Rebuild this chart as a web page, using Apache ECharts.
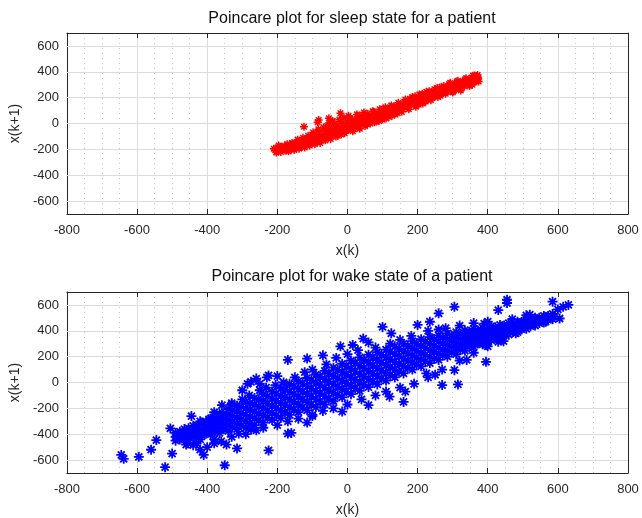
<!DOCTYPE html>
<html>
<head>
<meta charset="utf-8">
<script src="https://cdn.jsdelivr.net/npm/echarts@6/dist/echarts.min.js"></script>
<style>
  html, body { margin: 0; padding: 0; background: #fff; }
  #chart { width: 642px; height: 518px; }
</style>
</head>
<body>
<div id="chart"></div>
<script>
// axis ticks
const xTicks = [-800, -600, -400, -200, 0, 200, 400, 600, 800];
const yTicks = [-600, -400, -200, 0, 200, 400, 600];

// sleep state: [x(k), x(k+1)]
const sleepPoints = [
  [-205,-200],[-200,-215],[-198,-185],[-192,-205],[-185,-195],[-180,-175],[-178,-210],[-170,-190],
  [-165,-165],[-160,-200],[-155,-175],[-150,-150],[-148,-190],[-140,-165],[-135,-140],[-130,-180],
  [-124,-25],[-125,-150],[-120,-120],[-115,-165],[-110,-135],[-105,-100],[-100,-150],[-95,-115],
  [-90,-80],[-88,-140],[-82,27],[-85,10],[-82,-60],[-80,-105],[-75,-130],[-70,-85],[-65,-50],
  [-60,-110],[-58,-20],[-53,40],[-55,-75],[-50,-95],[-45,-40],[-42,20],[-40,-80],[-35,-55],
  [-30,-15],[-28,-95],[-25,-35],[-20,79],[-20,-65],[-15,5],[-12,-45],[-8,-75],[-5,-20],[0,10],
  [0,-50],[5,-30],[8,40],[12,-10],[15,-60],[20,20],[22,-25],[28,50],[30,-5],[35,-40],[38,30],
  [42,60],[45,10],[50,-20],[55,45],[58,75],[62,25],[65,0],[70,60],[75,90],[78,35],[82,15],
  [88,80],[92,110],[95,55],[100,30],[105,95],[108,125],[112,70],[118,50],[122,115],[125,140],
  [130,90],[135,70],[140,135],[145,160],[150,110],[155,90],[160,150],[165,185],[170,130],
  [175,110],[180,170],[185,205],[190,150],[195,130],[200,190],[205,225],[210,170],[215,155],
  [220,210],[225,245],[230,195],[238,180],[240,235],[248,265],[252,215],[258,205],[262,250],
  [268,285],[272,235],[280,230],[285,270],[290,305],[295,255],[302,250],[305,290],[312,325],
  [318,275],[325,270],[330,310],[335,340],[342,295],[348,290],[352,330],[355,355],[360,320],
  [365,345],[368,365],[370,335],[372,355],
  [-210,-195],[-203,-225],[-196,-170],[-190,-220],[-187,-180],[-175,-200],[-172,-160],[-168,-215],
  [-162,-180],[-158,-150],[-152,-205],[-145,-180],[-142,-125],[-138,-195],[-132,-155],[-127,-110],
  [-122,-185],[-118,-140],[-112,-95],[-108,-170],[-102,-125],[-98,-70],[-93,-160],[-87,-100],
  [-83,-45],[-78,-150],[-73,-110],[-68,-30],[-63,-130],[-57,-55],[-52,5],[-48,-120],[-43,-65],
  [-38,-5],[-33,-100],[-27,-40],[-23,30],[-18,-85],[-13,-20],[-10,45],[-3,-55],[2,-5],[3,60],
  [10,-35],[13,25],[18,-45],[25,5],[27,70],[32,-25],[36,45],[40,-10],[47,85],[52,25],[57,-5],
  [60,55],[67,30],[72,95],[77,10],[80,65],[85,40],[90,20],[97,85],[102,115],[103,60],[110,40],
  [115,105],[120,80],[127,60],[132,125],[138,100],[143,80],[148,145],[152,130],[158,110],
  [163,165],[168,150],[172,125],[178,190],[182,145],[188,175],[193,210],[198,160],[203,145],
  [208,200],[213,230],[218,180],[223,170],[228,225],[233,250],[236,210],[243,200],[246,250],
  [250,240],[256,275],[260,225],[265,215],[270,260],[275,290],[278,250],[283,245],[288,285],
  [293,315],[298,270],[300,240],[308,300],[310,265],[315,330],[320,290],[323,255],[328,325],
  [333,290],[338,350],[340,320],[345,310],[350,345],[356,300],[358,370],[362,340],[366,325],
  [371,375],[373,345],[374,325],[368,350],[362,372]
];

// wake state: [x(k), x(k+1)]
const wakePoints = [
  [-490,-450],[-490,-420],[-490,-390],[-465,-440],[-465,-400],[-465,-360],
  [-440,-425],[-440,-380],[-440,-335],[-415,-410],[-415,-360],[-415,-310],
  [-390,-400],[-390,-370],[-390,-340],[-390,-310],[-390,-280],
  [-365,-390],[-365,-352],[-365,-315],[-365,-278],[-365,-240],
  [-340,-375],[-340,-332],[-340,-290],[-340,-248],[-340,-205],
  [-315,-360],[-315,-315],[-315,-270],[-315,-225],[-315,-180],
  [-290,-350],[-290,-300],[-290,-250],[-290,-200],[-290,-150],
  [-265,-330],[-265,-278],[-265,-225],[-265,-172],[-265,-120],
  [-240,-310],[-240,-255],[-240,-200],[-240,-145],[-240,-90],
  [-215,-290],[-215,-235],[-215,-180],[-215,-125],[-215,-70],
  [-190,-275],[-190,-218],[-190,-160],[-190,-102],[-190,-45],
  [-165,-250],[-165,-190],[-165,-130],[-165,-70],[-165,-10],
  [-140,-230],[-140,-170],[-140,-110],[-140,-50],[-140,10],
  [-115,-215],[-115,-152],[-115,-90],[-115,-28],[-115,35],
  [-90,-190],[-90,-128],[-90,-65],[-90,-2],[-90,60],
  [-65,-170],[-65,-105],[-65,-40],[-65,25],[-65,90],
  [-40,-145],[-40,-80],[-40,-15],[-40,50],[-40,115],
  [-15,-115],[-15,-50],[-15,15],[-15,80],[-15,145],
  [10,-90],[10,-25],[10,40],[10,105],[10,170],
  [35,-65],[35,0],[35,65],[35,130],[35,195],
  [60,-35],[60,28],[60,90],[60,152],[60,215],
  [85,-15],[85,48],[85,110],[85,172],[85,235],
  [110,15],[110,75],[110,135],[110,195],[110,255],
  [135,40],[135,100],[135,160],[135,220],[135,280],
  [160,70],[160,128],[160,185],[160,242],[160,300],
  [185,100],[185,155],[185,210],[185,265],[185,320],
  [210,125],[210,178],[210,230],[210,282],[210,335],
  [235,150],[235,200],[235,250],[235,300],[235,350],
  [260,175],[260,222],[260,270],[260,318],[260,365],
  [285,200],[285,245],[285,290],[285,335],[285,380],
  [310,220],[310,262],[310,305],[310,348],[310,390],
  [335,245],[335,285],[335,325],[335,365],[335,405],
  [360,275],[360,310],[360,345],[360,380],[360,415],
  [385,295],[385,328],[385,360],[385,392],[385,425],
  [410,325],[410,352],[410,380],[410,408],[410,435],
  [435,345],[435,370],[435,395],[435,420],[435,445],
  [460,370],[460,415],[460,460],[485,390],[485,430],[485,470],
  [510,415],[510,450],[510,485],[535,440],[535,470],[535,500],
  [560,465],[560,490],[560,515],[585,490],[585,510],[585,530],
  [-478,-440],[-478,-410],[-478,-380],
  [-453,-426],[-453,-402],[-453,-378],[-453,-354],
  [-428,-409],[-428,-383],[-428,-357],[-428,-331],
  [-403,-395],[-403,-365],[-403,-335],[-403,-305],
  [-378,-380],[-378,-345],[-378,-310],[-378,-275],
  [-353,-362],[-353,-322],[-353,-282],[-353,-242],
  [-328,-346],[-328,-302],[-328,-258],[-328,-214],
  [-303,-331],[-303,-284],[-303,-236],[-303,-189],
  [-278,-315],[-278,-264],[-278,-212],[-278,-161],
  [-253,-293],[-253,-239],[-253,-185],[-253,-131],
  [-228,-272],[-228,-217],[-228,-163],[-228,-108],
  [-203,-254],[-203,-198],[-203,-142],[-203,-86],
  [-178,-234],[-178,-175],[-178,-116],[-178,-56],
  [-153,-210],[-153,-150],[-153,-90],[-153,-30],
  [-128,-192],[-128,-130],[-128,-70],[-128,-8],
  [-103,-172],[-103,-110],[-103,-47],[-103,16],
  [-78,-148],[-78,-84],[-78,-20],[-78,44],
  [-53,-126],[-53,-60],[-53,5],[-53,70],
  [-28,-98],[-28,-32],[-28,32],[-28,98],
  [-3,-70],[-3,-5],[-3,60],[-3,125],
  [22,-46],[22,20],[22,84],[22,150],
  [47,-18],[47,46],[47,110],[47,174],
  [72,6],[72,68],[72,132],[72,194],
  [97,30],[97,92],[97,152],[97,214],
  [122,58],[122,118],[122,178],[122,238],
  [147,84],[147,142],[147,202],[147,260],
  [172,114],[172,170],[172,226],[172,282],
  [197,139],[197,193],[197,247],[197,301],
  [222,164],[222,214],[222,266],[222,316],
  [247,186],[247,236],[247,284],[247,334],
  [272,211],[272,257],[272,303],[272,349],
  [297,232],[297,276],[297,320],[297,364],
  [322,254],[322,295],[322,335],[322,376],
  [347,279],[347,316],[347,354],[347,391],
  [372,301],[372,335],[372,369],[372,403],
  [397,325],[397,355],[397,385],[397,415],
  [422,349],[422,375],[422,401],[422,427],
  [447,369],[447,393],[447,417],[447,441],
  [472,390],[472,412],[472,432],[472,454],
  [497,412],[497,440],[497,468],[522,436],[522,460],[522,484],
  [547,460],[547,480],[547,500],[572,485],[572,500],[572,515],
  // upper edge of the cloud
  [-420,-300],[-380,-230],[-330,-170],[-300,-130],[-280,-100],[-250,-60],[-232,-40],[-205,-20],
  [-182,0],[-150,40],[-122,80],[-100,100],[-60,140],[-32,190],[0,220],[30,250],[80,270],
  [122,300],[150,330],[182,360],[230,400],[280,420],[320,440],[360,460],[400,470],[470,490],[510,520],
  // lower edge of the cloud
  [-460,-480],[-420,-440],[-380,-440],[-330,-420],[-290,-400],[-260,-370],[-240,-350],[-200,-330],
  [-170,-300],[-140,-280],[-100,-250],[-70,-220],[-40,-200],[0,-170],[40,-130],[80,-100],
  [110,-70],[150,-40],[190,-10],[230,40],[270,100],[320,170],[360,230],[400,280],[440,330],[480,380],
  // outliers
  [-645,-560],[-638,-590],[-595,-575],[-560,-520],[-545,-445],[-520,-655],[-505,-355],[-500,-550],
  [-450,-380],[-445,-260],[-440,-485],[-410,-560],[-395,-285],[-350,-640],[-358,-175],[-315,-510],
  [-275,5],[-225,-525],[-225,55],[-170,175],[-170,-395],[-115,185],[-70,210],[-15,-225],[45,340],
  [100,430],[60,-175],[125,380],[160,-150],[200,445],[260,535],[270,-20],[305,585],[305,95],
  [315,-15],[340,175],[395,160],[395,290],[430,560],[455,640],[455,615],[565,505],[565,470],
  [585,625],[605,495],[630,600],[615,585],[600,565],[520,525],[235,470],[390,455],[430,315],
  [445,320],[260,410],[60,310],[15,290],[-20,280],[-230,40],[-285,-10],[-260,30],[-330,-160],
  [-310,-395],[-275,-365],[-160,-390],[-115,-310],[-100,-260],[120,-110],[165,-70],[225,70],[250,60],
  [-470,-430],[-455,-470],[-430,-470],[-420,-520],[-400,-500],[-380,-470],[-360,-455],[-345,-480],
  [-300,-60],[-250,-10],[-200,50]
];

const star = 'path://M5 0L5 10M0 5L10 5M1.5 1.5L8.5 8.5M1.5 8.5L8.5 1.5';
const textColor = '#262626';
const font = 'Liberation Sans, Arial, sans-serif';

function xAxisPair(gridIndex) {
  const base = {
    gridIndex: gridIndex, type: 'value', min: -800, max: 800, interval: 200,
    axisLine: { show: true, onZero: false, lineStyle: { color: '#262626', width: 1 } },
    axisTick: { show: true, inside: true, length: 5, lineStyle: { color: '#262626' } }
  };
  return [
    Object.assign({}, base, {
      position: 'bottom',
      name: 'x(k)', nameLocation: 'middle', nameGap: 30,
      nameTextStyle: { color: textColor, fontSize: 14, fontFamily: font },
      axisLabel: { color: textColor, fontSize: 13, fontFamily: font, margin: 10 },
      splitLine: { show: true, lineStyle: { color: '#dcdcdc', width: 1 } },
      minorTick: { show: false, splitNumber: 4 },
      minorSplitLine: { show: true, lineStyle: { color: '#c4c4c4', type: [1, 4], width: 1 } }
    }),
    Object.assign({}, base, {
      position: 'top', axisLabel: { show: false }, splitLine: { show: false }
    })
  ];
}

function yAxisPair(gridIndex) {
  const base = {
    gridIndex: gridIndex, type: 'value', min: -700, max: 700, interval: 100,
    axisLine: { show: true, onZero: false, lineStyle: { color: '#262626', width: 1 } },
    axisTick: { show: true, inside: true, length: 5, lineStyle: { color: '#262626' }, customValues: yTicks },
    splitLine: { show: false }
  };
  return [
    Object.assign({}, base, {
      position: 'left',
      name: 'x(k+1)', nameLocation: 'middle', nameGap: 42, nameRotate: 90,
      nameTextStyle: { color: textColor, fontSize: 14, fontFamily: font },
      axisLabel: { color: textColor, fontSize: 13, fontFamily: font, margin: 8, customValues: yTicks }
    }),
    Object.assign({}, base, {
      position: 'right', axisLabel: { show: false }
    })
  ];
}

// horizontal major grid lines at the labelled y ticks, kept under the points
function gridLines(xi, yi) {
  return {
    type: 'scatter', xAxisIndex: xi, yAxisIndex: yi, data: [], z: 1, silent: true,
    markLine: {
      z: 1, silent: true, symbol: 'none', label: { show: false }, animation: false,
      lineStyle: { color: '#dcdcdc', width: 1, type: 'solid' },
      data: yTicks.map(v => ({ yAxis: v }))
    }
  };
}

const chart = echarts.init(document.getElementById('chart'));

chart.setOption({
  animation: false,
  title: [
    { text: 'Poincare plot for sleep state for a patient', left: 347, textAlign: 'center', top: 6,
      textStyle: { fontSize: 16, fontWeight: 'normal', color: '#111', fontFamily: font } },
    { text: 'Poincare plot for wake state of a patient', left: 347, textAlign: 'center', top: 264,
      textStyle: { fontSize: 16, fontWeight: 'normal', color: '#111', fontFamily: font } }
  ],
  grid: [
    { left: 66, top: 33, width: 562, height: 181 },
    { left: 66, top: 292, width: 562, height: 181 }
  ],
  xAxis: xAxisPair(0).concat(xAxisPair(1)),
  yAxis: yAxisPair(0).concat(yAxisPair(1)),
  series: [
    gridLines(0, 0),
    gridLines(2, 2),
    {
      type: 'scatter', xAxisIndex: 0, yAxisIndex: 0, data: sleepPoints, z: 6,
      symbol: star, symbolSize: 8,
      itemStyle: { color: 'none', borderColor: '#ff0000', borderWidth: 1.5, opacity: 1 }
    },
    {
      type: 'scatter', xAxisIndex: 2, yAxisIndex: 2, data: wakePoints, z: 6,
      symbol: star, symbolSize: 10,
      itemStyle: { color: 'none', borderColor: '#0000ff', borderWidth: 1.8, opacity: 1 }
    }
  ]
});
</script>
</body>
</html>
